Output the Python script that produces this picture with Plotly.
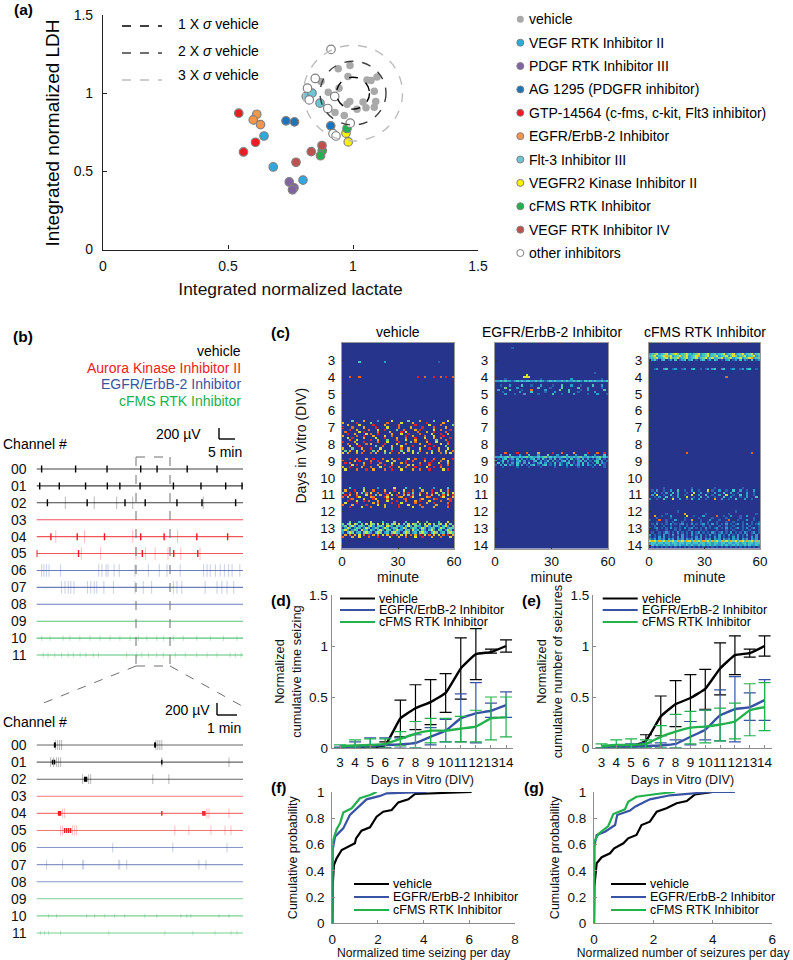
import numpy as np
import plotly.graph_objects as go

W, H = 793, 960
FONT = "Liberation Sans"
BLACK, RED, BLUE, GREEN = "#000000", "#ed1c24", "#3953a4", "#22b14c"

# (a) lactate / LDH scatter
GROUPS_A = [
    ("vehicle", "#a9a9a9",
     [.941, .988, .980, 1.056, 1.072, 1.096, 1.085, .944, .901, 1.091, 1.085, 1.052, 1.016, .987, .976, 1.040, .965, .928, .872],
     [1.156, 1.177, 1.107, 1.085, 1.081, 1.103, 1.013, 1.032, 1.006, .947, .910, .906, .897, .947, .929, .944, .857, .876, 1.075]),
    ("VEGF RTK Inhibitor II", "#29abe2", [.644, .681, .800], [.726, .528, .444]),
    ("PDGF RTK Inhibitor III", "#8064a2", [.745, .764, .758], [.432, .395, .382]),
    ("AG 1295 (PDGFR inhibitor)", "#1b75bc", [.732, .766, .911], [.823, .816, .791]),
    ("GTP-14564 (c-fms, c-kit, Flt3 inhibitor)", "#ed1c24", [.543, .610, .562], [.872, .686, .624]),
    ("EGFR/ErbB-2 Inhibitor", "#f7964a", [.615, .601, .630], [.865, .829, .799]),
    ("Flt-3 Inhibitor III", "#6cc5d5", [.813, .836, .868], [.979, 1.0, .936]),
    ("VEGFR2 Kinase Inhibitor II", "#fff200", [.972, .981], [.744, .688]),
    ("cFMS RTK Inhibitor", "#22b14c", [.976, .877, .870], [.774, .632, .600]),
    ("VEGF RTK Inhibitor IV", "#c0504d", [.876, .833, .772], [.665, .626, .558]),
    ("other inhibitors", "#ffffff",
     [.912, .849, .818, .825, .927, .899, .989, .920, .932],
     [1.280, 1.094, 1.032, .957, .979, .902, .808, .741, .726]),
]
SIGMA_X, SIGMA_Y = 0.066, 0.102
SIGMA_COLORS = ["#000000", "#404040", "#bdbdbd"]

# (b) traces: spike times in minutes, one list per channel
CHANNELS = ["00", "01", "02", "03", "04", "05", "06", "07", "08", "09", "10", "11"]
CH_COLORS = [BLACK, BLACK, BLACK, RED, RED, RED, BLUE, BLUE, BLUE, GREEN, GREEN, GREEN]
TOP_STRONG = [
    [1.6, 12.2, 22, 32.5, 37.6, 47, 56.3],
    [1, 7.1, 15.3, 22.1, 26, 32.3, 42.7, 51.3, 59, 64.1],
    [3.4, 15.8, 27.6, 33.9, 43.8, 51.6, 62.1],
    [],
    [4.5, 12.7, 21.2, 32.5, 39.8, 50, 59.6],
    [.1, 13.1, 33, 42.8, 50.3],
    [], [], [], [], [], [],
]
TOP_FAINT = [
    [], [], [9, 18, 25, 30, 52], [], [6, 15, 30, 44], [14, 20, 31, 34, 37, 41, 45, 51],
    [1.6, 2.3, 3.1, 3.9, 7.5, 19.4, 20.4, 21.7, 22.3, 24.2, 25.8, 30.7, 34.9, 38.3, 40.7, 44.8, 52.1, 53.2, 54.2, 55.8, 57.3, 58.6, 59.9, 61, 63.4],
    [7.8, 8.9, 9.9, 10.7, 11.7, 15.9, 16.9, 18, 18.8, 21, 24, 30.7, 33.3, 35.9, 42.7, 43.8, 45.3, 52.6, 56.3, 57.8, 59.4, 61.5],
    [], [],
    [1.6, 4.2, 8.3, 10.4, 13.5, 16.7, 19.8, 22.9, 26, 29.2, 31.8, 34.4, 37.5, 39.6, 42.7, 45.8, 50, 54.2, 58.3, 62.5],
    [2.1, 3.6, 5.7, 7.8, 9.9, 11.5, 13.6, 15.4, 17.7, 19.3, 28.1, 31.3, 32.8, 34.9, 37.5, 39.6, 43.3, 46.4, 50, 53.2, 56.3, 60.4, 62, 63.8],
]
LOW_STRONG = [
    [.9, .93, 5.9, 5.93],
    [.8, .9, 6.25],
    [2.4, 2.45, 2.5],
    [],
    [1.1, 1.15, 1.2, 8.3, 8.35, 8.4, 6.25],
    [1.4, 1.5, 1.6, 1.7],
    [], [], [], [], [], [],
]
LOW_FAINT = [
    [.95, 1.05, 1.15, 1.25, 5.95, 6.05, 6.15, 6.25],
    [.7, .85, 1.0, 1.1, 1.2, 6.25, 9.6],
    [2.3, 2.6, 2.7, 5.8, 6.6],
    [],
    [1.3, 1.4, 8.5, 8.6, 9.6],
    [1.2, 1.3, 1.8, 1.9, 2.0, 6.9, 7.6, 8.7, 9.4, 9.7],
    [3.8, 6.8, 9.5],
    [.5, 1.3, 2.3, 2.35, 4.1, 4.15, 4.5, 8.1, 8.45],
    [], [],
    [.6, 1, 2.5, 2.9, 3.4, 3.9, 4.4, 5.4, 6, 7.2, 7.5, 7.7, 9.1, 9.6],
    [.2, .4, .6, 1.2, 3.6, 6.4, 7.8, 8.9, 9.7, 10],
]

# (c) raster rows, one digit per 1.25 minute bin, keyed by day
HEAT_VEHICLE = {
    2.25: "000000000000000100000000001000000000000001000000",
    3.125: "000000040000000000300000000000000100010002000100",
    4.0: "000800080000000000000000000000009008000900809008",
    6.625: "000050000700000300000600000050000700000500000600",
    6.75: "700000900000500000080000060000700000900000070000",
    6.875: "007000060000090000700000800000090000060000800005",
    7.0: "900080000700009000060000800007000090000800007000",
    7.125: "000900700008000600900005008000070900000600800090",
    7.25: "080000060900000800007000090600008000700900008000",
    7.375: "009007000060800900000700060090000800006000900700",
    7.5: "700000800900070000600800000900700008000600090000",
    7.625: "006090000700006000900007000800090006000700800090",
    7.75: "000800600000900700050008000600070000900050008000",
    7.875: "900007000900000800060000900005080000700060000900",
    8.0: "008000600080700000900006000800000700090000600800",
    8.125: "000600090000005008000700060000900007000900005000",
    8.25: "700050007000900060000500080070000600090007000600",
    8.375: "050700600800050700600900050070600800005007006008",
    8.5: "607000708000807000507000806000605000706000807060",
    8.875: "000900800070090008000700900060080009000800070009",
    9.0: "800007090000800900060070000900800007009000800600",
    9.125: "090800000700900080000600070900000800090006000700",
    9.25: "000060900800000700900800000070600900080000900800",
    9.375: "700900007000800060009000700800090000600900800000",
    9.5: "060000800090070000800900060000700800090000060900",
    10.625: "000400000500000300000060000400000500000300000400",
    10.75: "070009000600080000700090006000800070009000600800",
    10.875: "500900705080600800906000708090500800709060050806",
    11.0: "090700800060905070080609007050800600907005080609",
    11.125: "807000960000780000960000870009600000780000960007",
    11.25: "000980000700096000080700009800000970000890000790",
    11.375: "009000600908000700060009000800070900060000800090",
    11.5: "060000900000070800000900060000080000700900000800",
    11.625: "800070000090000600700000900060000800000070000900",
    11.75: "000900006000800000700000900000600080000700000800",
    12.625: "000500040000600004000050000400006000500004000600",
    12.75: "505606505060650606050560605060650506060505606050",
    12.875: "350463045304630453064305430463054304630453046305",
    13.0: "036403540364035403640354036403540364035403640354",
    13.125: "463035406340530463054036430540634053046305403640",
    13.25: "304650340564304650340564304650340564304650340564",
    13.375: "070807060809070806070908060708070906080706080907",
    13.5: "800070060008000900006000700800060090007000800060",
}
HEAT_EGFR = {
    2.25: "000100020000010001000000000110001010100101100000",
    3.75: "000000100000001000000000000100000000100000200000",
    3.875: "000000000000060000000000000000000000000000000000",
    4.0: "000000000000666000000000000000000000000000000000",
    4.125: "000020000000000000020000000000003000000000000200",
    4.25: "334343323434344334343234343343433434324343433434",
    4.5: "002000300004000200030000200040003000200004000300",
    4.625: "000050000300000000400002000050000004000300000200",
    4.75: "030000400002000800000300000500040000200300000040",
    4.875: "000200000030000400000200030000040002000000300000",
    5.0: "000030002000300000200000400020000300000200030002",
    8.5: "000080000900080000700000900080000700000900080090",
    8.625: "003000400030004000300050003000400030004000300040",
    8.75: "334345343343453433434534343345343434533434345343",
    8.875: "020340230403020340304203040320304023040302034020",
    9.0: "302403020340302034030240302034030203403020340302",
    9.125: "040302030420304020340302040320340203040302040320",
    9.25: "203040320403020340203402030420304023040320304020",
    9.375: "010200100201002001020010020100200102001002010020",
    9.5: "000100010000100001000010000100001000010000100001",
}
HEAT_CFMS = {
    2.625: "345634563456534564345634563453456345634563456345",
    2.75: "456345675634564563456734563456345634653456345634",
    2.875: "345634563645634563456345635634563456345634567345",
    3.0: "034203402304023403402034023043020340230403204023",
    3.5: "002300340023002300340020230340034002300230340020",
    4.0: "000000000000000000000000000000000800000000000000",
    8.5: "000000000000000080000000000000000000000000008000",
    10.625: "001000200010001000200100010020001000100020001000",
    10.75: "020300200300400200300200060200300200400300200300",
    10.875: "003002030040300020060030020030004003002000300200",
    11.0: "030600200400300200600300400200300600200400300200",
    11.125: "002030040020300060020040030020004003000200300040",
    11.25: "300200400060030020400300200070030020040003002000",
    12.0: "000000000000200000000000000000000000020000000000",
    12.125: "000100020010000700010000201000100020001000100020",
    12.25: "007002000300100060020003001008002003000200300100",
    12.375: "100200100200100200100200100200100200100200100200",
    12.5: "200080020003000200700020003000200080002000300200",
    12.625: "101201020120102011201021020112010201201020102012",
    12.75: "120312120312123120312123120312120312123120312123",
    12.875: "012101201210120120121012012101201201210120121012",
    13.0: "212312120312120312312120312123120312123120312312",
    13.125: "101201021012020102010120201012010201201020120102",
    13.25: "120121232120312120312312120321231203121203212312",
    13.375: "302120312031203120312031203120312031203120312031",
    13.5: "212031312120313121203131212031312120313121203131",
    13.625: "323132313231323132313231323132313231323132313231",
    13.75: "676475647564756476475647564756475647564764756475",
    13.875: "344344344344344344344344344344344344344344344344",
    14.0: "343433434334343343433434334343343433434334343343",
    14.125: "121212121212121212121212121212121212121212121212",
}
HEAT_TITLES = ["vehicle", "EGFR/ErbB-2 Inhibitor", "cFMS RTK Inhibitor"]
JET = [[0, "#27348b"], [.12, "#27348b"], [.25, "#2a6fbb"], [.4, "#2fc0d8"], [.55, "#6fcf97"],
       [.68, "#e6e32a"], [.82, "#f7941d"], [1, "#e0242a"]]

# (d) (e) cumulative curves
DAYS = [3, 4, 5, 6, 7, 8, 9, 10, 11, 12, 13, 14]
D_VEH = [0, 0, .005, .03, .29, .39, .45, .54, .78, .92, .94, 1.0]
D_VEH_HI = [0, .01, .02, .06, .47, .62, .67, .73, 1.08, 1.17, .97, 1.06]
D_VEH_LO = [0, 0, 0, 0, .11, .18, .23, .35, .48, .67, .93, .94]
D_EGFR = [0, .01, .02, .03, .035, .05, .11, .17, .29, .34, .365, .42]
D_EGFR_HI = [.01, .06, .10, .10, .10, .13, .20, .28, .53, .64, .44, .55]
D_EGFR_LO = [0, 0, 0, 0, 0, 0, .03, .06, .06, .05, .30, .30]
D_CFMS = [.02, .025, .03, .04, .09, .14, .17, .17, .19, .21, .29, .30]
D_CFMS_HI = [.03, .08, .09, .09, .16, .26, .29, .29, .31, .37, .50, .50]
D_CFMS_LO = [0, 0, 0, 0, .02, 0, .05, .06, .06, .06, .08, .11]
E_VEH = [0, .005, .01, .07, .31, .43, .49, .58, .78, .91, .93, 1.0]
E_VEH_HI = [0, .01, .02, .13, .51, .66, .72, .77, 1.03, 1.10, .97, 1.10]
E_VEH_LO = [0, 0, 0, .02, .12, .21, .26, .38, .52, .72, .89, .90]
E_EGFR = [0, .005, .01, .02, .025, .04, .11, .18, .32, .38, .40, .47]
E_EGFR_HI = [0, .01, .04, .05, .05, .08, .26, .37, .57, .70, .54, .67]
E_EGFR_LO = [0, 0, 0, 0, 0, 0, .03, .08, .07, .06, .27, .27]
E_CFMS = [.02, .03, .03, .04, .11, .16, .20, .21, .23, .26, .37, .40]
E_CFMS_HI = [.04, .08, .09, .08, .22, .33, .36, .37, .39, .44, .63, .64]
E_CFMS_LO = [0, 0, 0, 0, 0, 0, .04, .05, .07, .09, .12, .17]

# (f) (g) cumulative probability
F_VEH_X = [0, .015, .07, .19, .41, .77, .99, 1.04, 1.28, 1.65, 1.94, 2.23, 2.6, 2.89, 3.33, 3.62, 4.28, 6.1]
F_VEH_Y = [0, .279, .444, .495, .558, .589, .609, .647, .706, .731, .812, .85, .863, .921, .944, .985, .99, 1.0]
F_EGFR_X = [0, .015, .12, .48, .77, 1.14, 1.5, 2.09, 2.38, 4.13]
F_EGFR_Y = [0, .558, .66, .723, .825, .888, .944, .97, .99, 1.0]
F_CFMS_X = [0, .015, .19, .34, .48, .85, 1.21, 1.65, 1.94]
F_CFMS_Y = [0, .622, .716, .761, .843, .876, .952, .977, 1.0]
G_VEH_X = [0, .01, .09, .26, .54, .68, .99, 1.15, 1.43, 1.6, 1.88, 2.11, 2.44, 2.78, 3.12, 3.4, 4.0]
G_VEH_Y = [0, .279, .457, .503, .533, .571, .609, .647, .673, .748, .774, .85, .876, .914, .931, .982, 1.0]
G_EGFR_X = [0, .01, .09, .37, .71, .78, 1.21, 1.38, 1.88, 2.56, 3.9, 4.74]
G_EGFR_Y = [0, .584, .673, .698, .749, .825, .858, .888, .944, .975, 1.0, 1.0]
G_CFMS_X = [0, .01, .15, .48, .65, 1.04, 1.15, 1.43, 2.11, 2.72]
G_CFMS_Y = [0, .622, .68, .741, .832, .868, .926, .964, .985, 1.0]
CURVE_NAMES = ["vehicle", "EGFR/ErbB-2 Inhibitor", "cFMS RTK Inhibitor"]
CURVE_COLORS = [BLACK, BLUE, GREEN]


def px(x):
    return x / W


def py(y):
    return 1 - y / H


annotations = []
shapes = []


def label(x, y, text, size=14, anchor="left", color="black", angle=0):
    annotations.append(dict(xref="paper", yref="paper", x=px(x), y=py(y), text=text, showarrow=False,
                            xanchor=anchor, yanchor="middle", textangle=angle, borderpad=0,
                            font=dict(family=FONT, size=size, color=color)))


def pline(x0, y0, x1, y1, color, width=1.2, dash="solid"):
    shapes.append(dict(type="line", xref="paper", yref="paper", x0=px(x0), y0=py(y0), x1=px(x1), y1=py(y1),
                       line=dict(color=color, width=width, dash=dash)))


def axis(x_or_y, a, b, rng, **kw):
    dom = [px(a), px(b)] if x_or_y == "x" else [py(b), py(a)]
    d = dict(domain=dom, range=rng, showgrid=False, zeroline=False, fixedrange=True, tickangle=0, automargin=False,
             tickfont=dict(family=FONT, size=13.5, color="#111111"))
    d.update(kw)
    return d


fig = go.Figure()
layout = {}

# ---- panel a
AX_A = dict(showline=True, linecolor="#222222", linewidth=1.2, ticks="inside", ticklen=4, tickcolor="#222222",
            tickvals=[0, .5, 1, 1.5], ticktext=["0", "0.5", "1", "1.5"],
            tickfont=dict(family=FONT, size=14, color="#111111"))
layout["xaxis"] = axis("x", 103, 478, [0, 1.5], anchor="y", ticklabelstandoff=4, **AX_A,
                       title=dict(text="Integrated normalized lactate", standoff=9,
                                  font=dict(family=FONT, size=17.4)))
layout["yaxis"] = axis("y", 15, 249.5, [0, 1.5], anchor="x", ticklabelstandoff=6, **AX_A)
label(52, 133.5, "Integrated normalized LDH", 19, "center", angle=-90)
for name, color, xs, ys in GROUPS_A:
    fig.add_trace(go.Scatter(x=xs, y=ys, mode="markers", name=name, showlegend=False, xaxis="x", yaxis="y",
                             marker=dict(size=7.5 if name == "vehicle" else 8.5, color=color,
                                         line=dict(width=0 if name == "vehicle" else 1.2, color="#808080"))))
for k, c in enumerate(SIGMA_COLORS, start=1):
    shapes.append(dict(type="circle", xref="x", yref="y", x0=1 - k * SIGMA_X, x1=1 + k * SIGMA_X,
                       y0=1 - k * SIGMA_Y, y1=1 + k * SIGMA_Y, line=dict(color=c, width=1.4, dash="dash")))
for k, (c, y_line, y_text) in enumerate(zip(SIGMA_COLORS, [26, 53, 80], [24.5, 51, 75.5]), start=1):
    pline(122, y_line, 162, y_line, c, 1.4, "dash")
    label(176.5, y_text, f"{k} X <i>σ</i> vehicle", 14)
for i, (name, color, _, _) in enumerate(GROUPS_A):
    y_key = 19.3 + i * 23.37
    shapes.append(dict(type="circle", xref="paper", yref="paper", xsizemode="pixel", ysizemode="pixel",
                       xanchor=px(520.3), yanchor=py(y_key), x0=-3.5, x1=3.5, y0=-3.5, y1=3.5,
                       fillcolor=color, line=dict(color="#808080", width=0 if name == "vehicle" else 1)))
    label(527.5, y_key, name, 14)

# ---- panel b
axis_id = 2
for strong, faint, xmax, y_first, y_last, s_size, f_size, line_alpha in [
    (TOP_STRONG, TOP_FAINT, 64.4, 469, 655, 5, 9, .75),
    (LOW_STRONG, LOW_FAINT, 10.3, 745, 933, 3.5, 7, .6),
]:
    xa, ya = f"x{axis_id}", f"y{axis_id}"
    step = (y_last - y_first) / 11
    layout[f"xaxis{axis_id}"] = axis("x", 36.5, 243, [0, xmax], anchor=ya, visible=False)
    layout[f"yaxis{axis_id}"] = axis("y", y_first - step, y_last + step * 0.6, [11.6, -1], anchor=xa,
                                     showline=False, ticks="", tickvals=list(range(12)), ticktext=CHANNELS,
                                     ticklabelstandoff=9, tickfont=dict(family=FONT, size=14, color="#111111"))
    for ch, color in enumerate(CH_COLORS):
        fig.add_trace(go.Scatter(x=[0, xmax], y=[ch, ch], mode="lines", xaxis=xa, yaxis=ya, showlegend=False,
                                 line=dict(color=color, width=1.1), opacity=line_alpha))
        if faint[ch]:
            # green channels only show short ticks
            fig.add_trace(go.Scatter(x=faint[ch], y=[ch] * len(faint[ch]), mode="markers", xaxis=xa, yaxis=ya,
                                     showlegend=False, opacity=.25,
                                     marker=dict(symbol="line-ns", size=f_size if ch < 10 else f_size * .45,
                                                 line=dict(color=color, width=1.1))))
        if strong[ch]:
            fig.add_trace(go.Scatter(x=strong[ch], y=[ch] * len(strong[ch]), mode="markers", xaxis=xa, yaxis=ya,
                                     showlegend=False,
                                     marker=dict(symbol="line-ns", size=s_size,
                                                 line=dict(color=color, width=1.4))))
    axis_id += 1

for text, color, y_t in zip(["vehicle", "Aurora Kinase Inhibitor II", "EGFR/ErbB-2 Inhibitor", "cFMS RTK Inhibitor"],
                            [BLACK, RED, BLUE, GREEN], [351, 367.5, 384, 401]):
    label(242, y_t, text, 14, "right", color)
label(2, 444, "Channel #", 14)
label(202, 434, "200 µV", 14, "right")
label(243, 452, "5 min", 14, "right")
pline(219, 428, 219, 439, BLACK, 1.4)
pline(219, 439, 235, 439, BLACK, 1.4)
label(2, 722, "Channel #", 14)
label(211, 710, "200 µV", 14, "right")
label(242, 728, "1 min", 14, "right")
pline(217, 703, 217, 715, BLACK, 1.4)
pline(217, 715, 237, 715, BLACK, 1.4)
GRAY_DASH = "#6e6e6e"
pline(136, 457, 170, 457, GRAY_DASH, 1, "dash")
pline(136, 457, 136, 666, GRAY_DASH, 1, "dash")
pline(170, 457, 170, 666, GRAY_DASH, 1, "dash")
pline(136, 666, 170, 666, GRAY_DASH, 1, "dash")
pline(136, 666, 36, 706, GRAY_DASH, 1, "dash")
pline(170, 666, 242, 706, GRAY_DASH, 1, "dash")

# ---- panel c
HEAT_DAYS = np.arange(1.875, 14.3, 0.125)
HEAT_MINUTES = (np.arange(48) + .5) * 60 / 48
for i, (rows, (a, b), title) in enumerate(zip([HEAT_VEHICLE, HEAT_EGFR, HEAT_CFMS],
                                              [(342, 454), (495, 608), (649, 760)], HEAT_TITLES)):
    n = 4 + i
    z = [[int(c) for c in rows.get(float(d), "").ljust(48, "0")[:48]] for d in HEAT_DAYS]
    fig.add_trace(go.Heatmap(x=HEAT_MINUTES, y=HEAT_DAYS, z=z, zmin=0, zmax=9, colorscale=JET, showscale=False,
                             xaxis=f"x{n}", yaxis=f"y{n}"))
    frame = dict(showline=True, linecolor="#999999", linewidth=1, mirror=True, ticks="inside", ticklen=2,
                 tickcolor="#333333")
    layout[f"xaxis{n}"] = axis("x", a, b, [0, 60], anchor=f"y{n}", tickvals=[0, 30, 60], **frame,
                               title=dict(text="minute", standoff=3, font=dict(family=FONT, size=14)))
    layout[f"yaxis{n}"] = axis("y", 343, 548.5, [14.2, 1.97], anchor=f"x{n}", tickvals=DAYS, ticklabelstandoff=3, **frame,
                               title=dict(text="Days in Vitro (DIV)" if i == 0 else "", standoff=10,
                                          font=dict(family=FONT, size=14)))
    label((a + b) / 2, 332, title, 14, "center")

# ---- panels d, e
for n, (a, b), xr, curves, ytitle, key_off in [
    (7, (331.7, 513), [2.45, 14.46], [(D_VEH, D_VEH_HI, D_VEH_LO), (D_EGFR, D_EGFR_HI, D_EGFR_LO), (D_CFMS, D_CFMS_HI, D_CFMS_LO)],
     "Normalized<br>cumulative time seizing", 8.3),
    (8, (593, 772), [2.43, 14.5], [(E_VEH, E_VEH_HI, E_VEH_LO), (E_EGFR, E_EGFR_HI, E_EGFR_LO), (E_CFMS, E_CFMS_HI, E_CFMS_LO)],
     "Normalized<br>cumulative number of seizures", 9.7),
]:
    ax = dict(showline=True, linecolor="#8c8c8c", linewidth=1.2, ticks="inside", ticklen=3, tickcolor="#8c8c8c")
    layout[f"xaxis{n}"] = axis("x", a, b, xr, anchor=f"y{n}", tickvals=DAYS, ticklabelstandoff=2, **ax,
                               title=dict(text="Days in Vitro (DIV)", standoff=5, font=dict(family=FONT, size=12.5)))
    layout[f"yaxis{n}"] = axis("y", 595, 748, [0, 1.5], anchor=f"x{n}", tickvals=[0, .5, 1, 1.5],
                               ticktext=["0", "0.5", "1", "1.5"], **ax,
                               title=dict(text=ytitle, standoff=4, font=dict(family=FONT, size=12.8)))
    for (mean, hi, lo), color, name in zip(curves, CURVE_COLORS, CURVE_NAMES):
        fig.add_trace(go.Scatter(x=DAYS, y=mean, mode="lines", name=name, showlegend=False, xaxis=f"x{n}", yaxis=f"y{n}",
                                 line=dict(color=color, width=2.4, shape="spline", smoothing=.3),
                                 error_y=dict(type="data", symmetric=False, color=color, thickness=1.2, width=6,
                                              array=[h - m for h, m in zip(hi, mean)],
                                              arrayminus=[m - l for m, l in zip(mean, lo)])))
    x_key = a + key_off
    for y_k, color, name in zip([598.5, 610, 622], CURVE_COLORS, CURVE_NAMES):
        pline(x_key, y_k, x_key + 35, y_k, color, 2.2)
        label(x_key + 38, y_k, name, 12.5)

# ---- panels f, g
for n, (a, b), xr, xt, xlabel, curves, key_off in [
    (9, (332.3, 515), [0, 8], [0, 2, 4, 6, 8], "Normalized time seizing per day",
     [(F_VEH_X, F_VEH_Y), (F_EGFR_X, F_EGFR_Y), (F_CFMS_X, F_CFMS_Y)], 21.7),
    (10, (594, 772.3), [0, 6], [0, 2, 4, 6], "Normalized number of seizures per day",
     [(G_VEH_X, G_VEH_Y), (G_EGFR_X, G_EGFR_Y), (G_CFMS_X, G_CFMS_Y)], 17),
]:
    ax = dict(showline=True, linecolor="#8c8c8c", linewidth=1.2, ticks="inside", ticklen=3, tickcolor="#8c8c8c")
    layout[f"xaxis{n}"] = axis("x", a, b, xr, anchor=f"y{n}", tickvals=xt, ticklabelstandoff=3, **ax,
                               title=dict(text=xlabel, standoff=2, font=dict(family=FONT, size=12.2)))
    layout[f"yaxis{n}"] = axis("y", 792, 923.3, [0, 1], anchor=f"x{n}", tickvals=[0, .2, .4, .6, .8, 1],
                               ticktext=["0", "0.2", "0.4", "0.6", "0.8", "1"], ticklabelstandoff=4, **ax,
                               title=dict(text="Cumulative probability", standoff=5, font=dict(family=FONT, size=12.5)))
    for (xs, ys), color, name in zip(curves, CURVE_COLORS, CURVE_NAMES):
        fig.add_trace(go.Scatter(x=xs, y=ys, mode="lines", name=name, showlegend=False, xaxis=f"x{n}", yaxis=f"y{n}",
                                 line=dict(color=color, width=2.2)))
    x_key = a + key_off
    for y_k, color, name in zip([884, 897, 910], CURVE_COLORS, CURVE_NAMES):
        pline(x_key, y_k, x_key + 35, y_k, color, 2.2)
        label(x_key + 38, y_k, name, 12.5)

for x_l, y_l, text in [(13, 10, "(a)"), (12, 336, "(b)"), (270, 332, "(c)"), (270, 600, "(d)"),
                       (521, 600, "(e)"), (270, 787, "(f)"), (523, 787, "(g)")]:
    label(x_l, y_l, f"<b>{text}</b>", 15.5)

fig.update_layout(width=W, height=H, autosize=False, margin=dict(l=0, r=0, t=0, b=0), paper_bgcolor="white",
                  plot_bgcolor="white", font=dict(family=FONT, color="#111111"), showlegend=False,
                  annotations=annotations, shapes=shapes, **layout)
fig.write_html("out.html", config=dict(displayModeBar=False), post_script="document.body.style.margin='0';")
